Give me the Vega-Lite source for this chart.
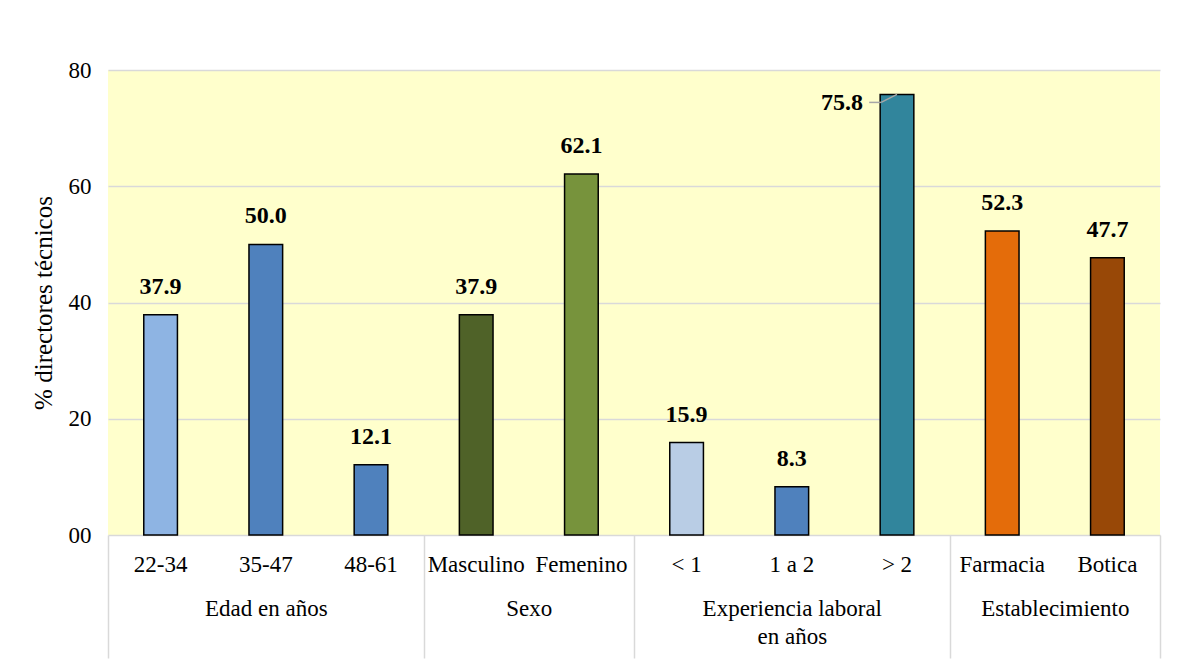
{
  "$schema": "https://vega.github.io/schema/vega-lite/v6.json",
  "autosize": {"type": "none"},
  "padding": {"left": 108, "top": 70, "right": 41, "bottom": 134},
  "width": 1052,
  "height": 465,
  "background": "white",
  "config": {
    "font": "Liberation Serif",
    "text": {"font": "Liberation Serif"},
    "view": {"fill": "#FFFFCC", "stroke": null},
    "axis": {"labelFont": "Liberation Serif", "titleFont": "Liberation Serif", "labelColor": "#000000", "titleColor": "#000000"}
  },
  "datasets": {
    "bars": [
      {"cat": "22-34", "value": 37.9, "group": "Edad en años"},
      {"cat": "35-47", "value": 50.0, "group": "Edad en años"},
      {"cat": "48-61", "value": 12.1, "group": "Edad en años"},
      {"cat": "Masculino", "value": 37.9, "group": "Sexo"},
      {"cat": "Femenino", "value": 62.1, "group": "Sexo"},
      {"cat": "< 1", "value": 15.9, "group": "Experiencia laboral en años"},
      {"cat": "1 a 2", "value": 8.3, "group": "Experiencia laboral en años"},
      {"cat": "> 2", "value": 75.8, "group": "Experiencia laboral en años"},
      {"cat": "Farmacia", "value": 52.3, "group": "Establecimiento"},
      {"cat": "Botica", "value": 47.7, "group": "Establecimiento"}
    ],
    "bounds": [{"b": 0}, {"b": 3}, {"b": 5}, {"b": 8}, {"b": 10}],
    "groups": [
      {"pos": 1.5, "name": "Edad en años"},
      {"pos": 4, "name": "Sexo"},
      {"pos": 6.5, "name": "Experiencia laboral|en años"},
      {"pos": 9, "name": "Establecimiento"}
    ]
  },
  "layer": [
    {
      "data": {"name": "bars"},
      "layer": [
        {
          "mark": {"type": "bar", "stroke": "#000000", "strokeWidth": 1.5},
          "encoding": {
            "x": {
              "field": "cat", "type": "nominal", "sort": null,
              "scale": {"paddingInner": 0.68, "paddingOuter": 0.34},
              "axis": {"title": null, "ticks": false, "domain": false, "labelAngle": 0, "labelFontSize": 23, "labelPadding": 18, "labelBaseline": "top"}
            },
            "y": {
              "field": "value", "type": "quantitative",
              "scale": {"domain": [0, 80], "nice": false},
              "axis": {"title": "% directores técnicos", "titleFontSize": 25, "titleFontWeight": "normal", "titlePadding": 12, "values": [0, 20, 40, 60, 80], "labelExpr": "datum.value == 0 ? '00' : datum.label", "labelFontSize": 23, "labelPadding": 17, "ticks": false, "domain": false, "gridColor": "#D9D9D9", "gridWidth": 1.5}
            },
            "color": {
              "field": "cat", "type": "nominal", "legend": null,
              "scale": {
                "domain": ["22-34", "35-47", "48-61", "Masculino", "Femenino", "< 1", "1 a 2", "> 2", "Farmacia", "Botica"],
                "range": ["#8EB4E3", "#4F81BD", "#4F81BD", "#4F6228", "#77933C", "#B9CDE5", "#4F81BD", "#31859C", "#E46C0A", "#984807"]
              }
            }
          }
        },
        {
          "transform": [{"filter": "datum.cat != '> 2'"}],
          "mark": {"type": "text", "fontSize": 24, "fontWeight": "bold", "baseline": "alphabetic", "dy": -21, "color": "#000000"},
          "encoding": {
            "x": {"field": "cat", "type": "nominal", "sort": null},
            "y": {"field": "value", "type": "quantitative"},
            "text": {"field": "value", "type": "quantitative", "format": ".1f"}
          }
        },
        {
          "transform": [{"filter": "datum.cat == '> 2'"}],
          "mark": {"type": "text", "fontSize": 24, "fontWeight": "bold", "baseline": "alphabetic", "align": "center", "dx": -55, "dy": 16, "color": "#000000"},
          "encoding": {
            "x": {"field": "cat", "type": "nominal", "sort": null},
            "y": {"field": "value", "type": "quantitative"},
            "text": {"field": "value", "type": "quantitative", "format": ".1f"}
          }
        },
        {
          "transform": [{"filter": "datum.cat == '> 2'"}],
          "mark": {"type": "rule", "color": "#A6A6A6", "strokeWidth": 1.5, "xOffset": -11, "x2Offset": -16, "yOffset": 8, "y2Offset": 8},
          "encoding": {
            "x": {"field": "cat", "type": "nominal", "sort": null, "bandPosition": 0},
            "x2": {"field": "cat"},
            "y": {"field": "value", "type": "quantitative"},
            "y2": {"field": "value"}
          }
        },
        {
          "transform": [{"filter": "datum.cat == '> 2'"}],
          "mark": {"type": "rule", "color": "#A6A6A6", "strokeWidth": 1.5, "xOffset": 1, "x2Offset": 0, "yOffset": 8, "y2Offset": 0},
          "encoding": {
            "x": {"field": "cat", "type": "nominal", "sort": null, "bandPosition": 0},
            "x2": {"field": "cat"},
            "y": {"field": "value", "type": "quantitative"},
            "y2": {"field": "value"}
          }
        }
      ]
    },
    {
      "data": {"name": "bounds"},
      "mark": {"type": "rule", "opacity": 0},
      "encoding": {
        "x": {
          "field": "b", "type": "quantitative",
          "scale": {"domain": [0, 10], "nice": false, "zero": false},
          "axis": {"orient": "bottom", "title": null, "values": [0, 3, 5, 8, 10], "labels": false, "domain": false, "grid": false, "ticks": true, "tickSize": 123, "tickColor": "#D9D9D9", "tickWidth": 1.5}
        }
      }
    },
    {
      "data": {"name": "groups"},
      "mark": {"type": "rule", "opacity": 0},
      "encoding": {
        "x": {
          "field": "pos", "type": "quantitative",
          "scale": {"domain": [0, 10], "nice": false, "zero": false},
          "axis": {"orient": "bottom", "title": null, "values": [1.5, 4, 6.5, 9], "labelExpr": "datum.value == 1.5 ? 'Edad en años' : datum.value == 4 ? 'Sexo' : datum.value == 6.5 ? ['Experiencia laboral', 'en años'] : 'Establecimiento'", "labelFontSize": 23, "labelPadding": 62, "labelBaseline": "top", "labelLineHeight": 28, "labelFlush": false, "labelOverlap": false, "domain": false, "grid": false, "ticks": false}
        }
      }
    }
  ],
  "resolve": {"scale": {"x": "independent"}, "axis": {"x": "independent"}}
}
